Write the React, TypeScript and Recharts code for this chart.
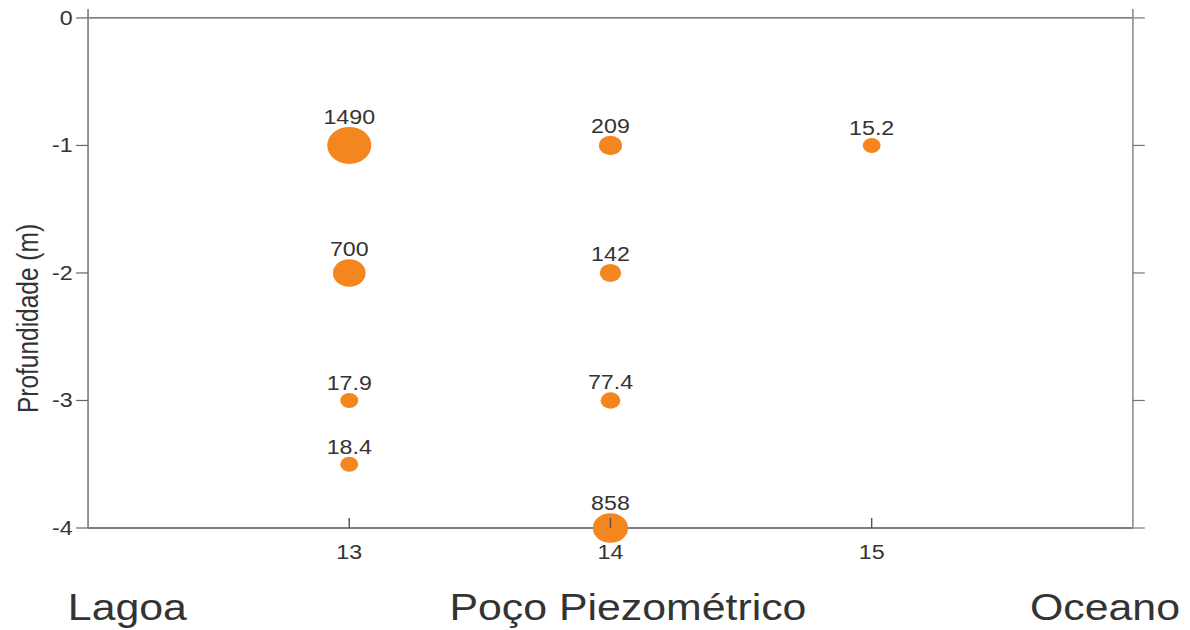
import React from 'react';
import { ScatterChart, Scatter, XAxis, YAxis, ZAxis, LabelList, ReferenceLine } from 'recharts';

// poço (x), profundidade (m) and concentration for each sample
const wells = [13, 13, 13, 13, 14, 14, 14, 14, 15];
const depths = [-1, -2, -3, -3.5, -1, -2, -3, -4, -1];
const concentrations = [1490, 700, 17.9, 18.4, 209, 142, 77.4, 858, 15.2];

const xTicks = [13, 14, 15];
const yTicks = [0, -1, -2, -3, -4];
const sideLabels = ['Lagoa', 'Poço Piezométrico', 'Oceano'];

const data = wells.map((x, i) => ({ x, y: depths[i], z: concentrations[i] }));
const zMin = Math.min(...concentrations);
const zMax = Math.max(...concentrations);

const FONT = '"Liberation Sans", Arial, Helvetica, sans-serif';
const TEXT = '#333333';
const STRETCH = 1.19; // the figure is drawn wide

const BottomTick = (props: any) => {
  const { x, y, payload } = props;
  return (
    <g>
      <line x1={x} x2={x} y1={y - 10} y2={y} stroke="#555" strokeWidth={1.2} />
      <text x={x} y={y + 31} textAnchor="middle" fontSize={19.5} fill={TEXT} fontFamily={FONT}>
        {payload.value}
      </text>
    </g>
  );
};

const NoText = () => <g />;

const DepthLabel = (props: any) => {
  const vb = props.viewBox || { y: 9, height: 519 };
  const cx = 24;
  const cy = vb.y + vb.height / 2 + 50;
  return (
    <text
      x={cx}
      y={cy}
      transform={`rotate(-90 ${cx} ${cy})`}
      textAnchor="middle"
      dominantBaseline="central"
      fontSize={24.5}
      fill={TEXT}
      fontFamily={FONT}
    >
      Profundidade (m)
    </text>
  );
};

const Bubble = (props: any) => {
  const { cx, cy, width } = props;
  return <circle cx={cx} cy={cy} r={width / 2} fill="#F4861F" />;
};

export default function App() {
  return (
    <div
      style={{
        position: 'absolute',
        left: 0,
        top: 0,
        width: 1000,
        height: 630,
        transform: `scaleX(${STRETCH})`,
        transformOrigin: '0 0',
        background: '#fff',
        fontFamily: FONT,
      }}
    >
      <ScatterChart width={1000} height={630} margin={{ top: 9, right: 0, bottom: 62, left: 0 }}>
        <XAxis
          type="number"
          dataKey="x"
          domain={[12, 16]}
          ticks={xTicks}
          height={40}
          tickSize={0}
          tickMargin={0}
          tickLine={false}
          tick={<BottomTick />}
          axisLine={{ stroke: '#555', strokeWidth: 1.3 }}
        />
        <YAxis
          type="number"
          dataKey="y"
          domain={[-4, 0.07]}
          ticks={yTicks}
          width={74}
          tickSize={10}
          tickMargin={3}
          tick={{ fontSize: 19.5, fill: TEXT, fontFamily: FONT }}
          tickLine={{ stroke: '#666', strokeWidth: 1.2 }}
          axisLine={{ stroke: '#888', strokeWidth: 1.5 }}
          label={<DepthLabel />}
        />
        <YAxis
          yAxisId="right"
          orientation="right"
          type="number"
          domain={[-4, 0.07]}
          ticks={yTicks}
          allowDataOverflow
          width={48}
          tickSize={10}
          tick={<NoText />}
          tickLine={{ stroke: '#777', strokeWidth: 1.2 }}
          axisLine={{ stroke: '#999', strokeWidth: 1.5 }}
        />
        <ZAxis type="number" dataKey="z" domain={[zMin, zMax]} range={[177, 1075]} />
        <ReferenceLine y={0} stroke="#555" strokeWidth={1.3} />
        <Scatter data={data} shape={<Bubble />} isAnimationActive={false}>
          <LabelList dataKey="z" position="top" offset={3} fontSize={19.5} fill={TEXT} fontFamily={FONT} />
        </Scatter>
      </ScatterChart>
      <svg width={1000} height={630} style={{ position: 'absolute', left: 0, top: 0, pointerEvents: 'none' }}>
        <text x={57} y={620} textAnchor="start" fontSize={36} fill={TEXT} fontFamily={FONT}>
          {sideLabels[0]}
        </text>
        <text x={527.7} y={620} textAnchor="middle" fontSize={36} fill={TEXT} fontFamily={FONT}>
          {sideLabels[1]}
        </text>
        <text x={991.6} y={620} textAnchor="end" fontSize={36} fill={TEXT} fontFamily={FONT}>
          {sideLabels[2]}
        </text>
      </svg>
    </div>
  );
}
